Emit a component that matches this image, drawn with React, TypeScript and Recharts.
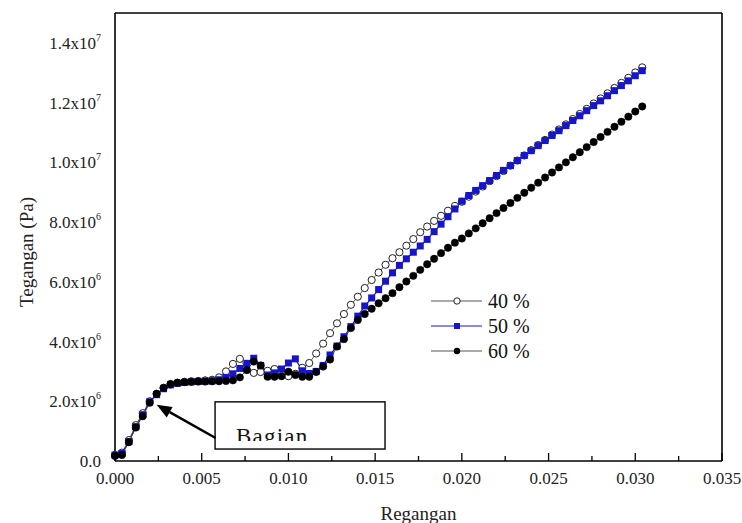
import React from 'react';
import { LineChart, Line, XAxis, YAxis, ReferenceLine, ReferenceArea, Legend } from 'recharts';

// strain (regangan), read every 0.0004 off the plot
const strain = [
  0, 0.0004, 0.0008, 0.0012, 0.0016, 0.002, 0.0024, 0.0028, 0.0032, 0.0036,
  0.004, 0.0044, 0.0048, 0.0052, 0.0056, 0.006, 0.0064, 0.0068, 0.0072, 0.0076,
  0.008, 0.0084, 0.0088, 0.0092, 0.0096, 0.01, 0.0104, 0.0108, 0.0112, 0.0116,
  0.012, 0.0124, 0.0128, 0.0132, 0.0136, 0.014, 0.0144, 0.0148, 0.0152, 0.0156,
  0.016, 0.0164, 0.0168, 0.0172, 0.0176, 0.018, 0.0184, 0.0188, 0.0192, 0.0196,
  0.02, 0.0204, 0.0208, 0.0212, 0.0216, 0.022, 0.0224, 0.0228, 0.0232, 0.0236,
  0.024, 0.0244, 0.0248, 0.0252, 0.0256, 0.026, 0.0264, 0.0268, 0.0272, 0.0276,
  0.028, 0.0284, 0.0288, 0.0292, 0.0296, 0.03, 0.0304,
];

// stress (tegangan) in units of 10^6 Pa
const stress40 = [
  0.2, 0.28, 0.7, 1.2, 1.6, 2.0, 2.25, 2.45, 2.56, 2.62,
  2.65, 2.67, 2.68, 2.7, 2.72, 2.8, 3.0, 3.25, 3.42, 3.05,
  2.95, 2.98, 3.02, 3.08, 2.95, 2.84, 2.92, 3.12, 3.28, 3.6,
  3.93, 4.28, 4.61, 4.92, 5.23, 5.5, 5.79, 6.06, 6.31, 6.57,
  6.79, 6.99, 7.21, 7.43, 7.66, 7.85, 8.04, 8.21, 8.38, 8.54,
  8.68, 8.85, 9.02, 9.19, 9.37, 9.54, 9.71, 9.89, 10.06, 10.23,
  10.41, 10.58, 10.75, 10.93, 11.1, 11.27, 11.45, 11.62, 11.79, 11.97,
  12.14, 12.31, 12.49, 12.66, 12.83, 13.01, 13.18,
];

const stress50 = [
  0.2, 0.25, 0.65, 1.15, 1.55, 1.98, 2.22, 2.42, 2.55, 2.6,
  2.63, 2.65, 2.66, 2.67, 2.68, 2.72, 2.8, 2.92, 3.1, 3.27,
  3.44, 3.2, 2.88, 2.95, 3.08, 3.28, 3.42, 3.02, 2.93, 3.0,
  3.2, 3.55, 3.85, 4.16, 4.5, 4.85, 5.19, 5.46, 5.74, 6.02,
  6.3, 6.55, 6.77, 6.99, 7.2, 7.42, 7.68, 7.93, 8.18, 8.44,
  8.7, 8.89, 9.06, 9.22, 9.39, 9.56, 9.73, 9.89, 10.06, 10.23,
  10.39, 10.56, 10.73, 10.9, 11.06, 11.23, 11.4, 11.56, 11.73, 11.9,
  12.06, 12.23, 12.4, 12.57, 12.73, 12.9, 13.07,
];

const stress60 = [
  0.17, 0.2, 0.63, 1.12, 1.5, 1.95, 2.25, 2.45, 2.58, 2.62,
  2.64, 2.65, 2.66, 2.66, 2.67, 2.67, 2.68, 2.7, 2.8, 3.05,
  3.33, 3.2, 2.82, 2.82, 2.84, 2.99, 2.88, 2.82, 2.82, 2.98,
  3.16, 3.4, 3.83, 4.08, 4.45, 4.72, 4.92, 5.1, 5.28, 5.45,
  5.62, 5.82, 6.01, 6.2, 6.4, 6.59, 6.77, 6.96, 7.14, 7.31,
  7.45, 7.62, 7.79, 7.96, 8.13, 8.3, 8.47, 8.64, 8.81, 8.98,
  9.15, 9.32, 9.49, 9.66, 9.83, 10.0, 10.17, 10.34, 10.51, 10.68,
  10.85, 11.02, 11.19, 11.36, 11.53, 11.7, 11.87,
];

const xTicks = [0, 0.0025, 0.005, 0.0075, 0.01, 0.0125, 0.015, 0.0175, 0.02, 0.0225, 0.025, 0.0275, 0.03, 0.0325, 0.035];
const xTickLabels = ['0.000', '', '0.005', '', '0.010', '', '0.015', '', '0.020', '', '0.025', '', '0.030', '', '0.035'];
const yTicks = [0, 2, 4, 6, 8, 10, 12, 14];
const yTickMantissa = ['0.0', '2.0', '4.0', '6.0', '8.0', '1.0', '1.2', '1.4'];
const yTickExponent = ['', '6', '6', '6', '6', '7', '7', '7'];
const seriesNames = ['40 %', '50 %', '60 %'];

const data = strain.map((s, i) => ({ strain: s, s40: stress40[i], s50: stress50[i], s60: stress60[i] }));

const FONT = '"Liberation Serif", "Times New Roman", serif';
const BLUE = '#1616c8';

const XTick = (props: any) => {
  const { x, y, payload } = props;
  const i = xTicks.indexOf(payload.value);
  const label = xTickLabels[i];
  const major = label !== '';
  return (
    <g>
      <line x1={x} y1={y} x2={x} y2={y - (major ? 8 : 5)} stroke="#000" strokeWidth={1.3} />
      {major && (
        <text x={x} y={y + 23} textAnchor="middle" fontSize={17} fontFamily={FONT} fill="#222">
          {label}
        </text>
      )}
    </g>
  );
};

const YTick = (props: any) => {
  const { x, y, payload } = props;
  const i = yTicks.indexOf(payload.value);
  const exp = yTickExponent[i];
  return (
    <text x={x - 14} y={y + 6} textAnchor="end" fontSize={17} fontFamily={FONT} fill="#222">
      <tspan>{yTickMantissa[i] + (exp ? 'x10' : '')}</tspan>
      {exp && (
        <tspan dy={-8} fontSize={10}>
          {exp}
        </tspan>
      )}
    </text>
  );
};

const SquareDot = (props: any) => {
  const { cx, cy, index } = props;
  if (cx == null || cy == null) return null;
  return <rect key={`sq-${index}`} x={cx - 3.5} y={cy - 3.5} width={7} height={7} fill={BLUE} />;
};

const BoxShape = (props: any) => {
  const { x, y, width, height } = props;
  return (
    <g>
      <defs>
        <clipPath id="boxclip">
          <rect x={x} y={y} width={width} height={height - 8} />
        </clipPath>
      </defs>
      <rect x={x} y={y} width={width} height={height} fill="#fff" stroke="#000" strokeWidth={1.4} />
      <text x={x + 21} y={y + 42} fontSize={23} fontFamily={FONT} fill="#111" letterSpacing={1.2} clipPath="url(#boxclip)">
        Bagian
      </text>
    </g>
  );
};

const ArrowShape = (props: any) => {
  const { x1, y1, x2, y2 } = props;
  const dx = x2 - x1;
  const dy = y2 - y1;
  const len = Math.sqrt(dx * dx + dy * dy) || 1;
  const ux = dx / len;
  const uy = dy / len;
  const hl = 15;
  const hw = 6;
  const bx = x2 - ux * hl;
  const by = y2 - uy * hl;
  return (
    <g>
      <line x1={x1} y1={y1} x2={bx} y2={by} stroke="#000" strokeWidth={2.5} />
      <polygon
        points={`${x2},${y2} ${bx - uy * hw},${by + ux * hw} ${bx + uy * hw},${by - ux * hw}`}
        fill="#000"
      />
    </g>
  );
};

const LegendBox = () => {
  const rows = [18, 43, 68];
  return (
    <svg width={130} height={82} style={{ display: 'block' }}>
      {rows.map((ry, i) => (
        <g key={seriesNames[i]}>
          <line x1={6} y1={ry} x2={57} y2={ry} stroke={i === 1 ? BLUE : '#555'} strokeWidth={1.2} />
          {i === 0 && <circle cx={32} cy={ry} r={3.2} fill="#fff" stroke="#222" strokeWidth={1} />}
          {i === 1 && <rect x={29} y={ry - 3} width={6} height={6} fill={BLUE} />}
          {i === 2 && <circle cx={32} cy={ry} r={3.2} fill="#000" />}
          <text x={63} y={ry + 7} fontSize={20} fontFamily={FONT} fill="#111">
            {seriesNames[i]}
          </text>
        </g>
      ))}
    </svg>
  );
};

export default function App() {
  return (
    <div style={{ position: 'absolute', left: 0, top: 0, width: 742, height: 523, background: '#fff' }}>
      <LineChart width={742} height={523} data={data} margin={{ top: 13, right: 20, bottom: 0, left: 0 }}>
        <XAxis
          dataKey="strain"
          type="number"
          domain={[0, 0.035]}
          ticks={xTicks}
          interval={0}
          height={62}
          tickSize={0}
          tickMargin={0}
          tickLine={false}
          tick={(p: any) => <XTick {...p} />}
          axisLine={{ stroke: '#000', strokeWidth: 1.6 }}
          label={{ value: 'Regangan', position: 'insideBottom', offset: 3, fontSize: 19, fontFamily: FONT, fill: '#222' }}
        />
        <YAxis
          type="number"
          domain={[0, 15]}
          ticks={yTicks}
          interval={0}
          width={115}
          tickSize={0}
          tickMargin={0}
          tickLine={false}
          tick={(p: any) => <YTick {...p} />}
          axisLine={{ stroke: '#000', strokeWidth: 1.6 }}
          label={{
            content: () => (
              <text
                x={26}
                y={252}
                transform="rotate(-90 26 252)"
                textAnchor="middle"
                dominantBaseline="central"
                fontSize={19}
                fontFamily={FONT}
                fill="#222"
              >
                Tegangan (Pa)
              </text>
            ),
          }}
        />
        <ReferenceLine y={15} stroke="#000" strokeWidth={1.6} />
        <ReferenceLine x={0.035} stroke="#000" strokeWidth={1.6} />
        <ReferenceArea x1={0.00577} x2={0.01557} y1={0.4} y2={1.98} ifOverflow="visible" shape={BoxShape} />
        <ReferenceLine
          segment={[{ x: 0.0058, y: 0.77 }, { x: 0.0024, y: 1.88 }]}
          ifOverflow="visible"
          shape={ArrowShape}
        />
        <Line
          type="linear"
          dataKey="s40"
          name={seriesNames[0]}
          stroke="#666"
          strokeWidth={1}
          dot={{ r: 3.6, fill: '#fff', stroke: '#222', strokeWidth: 1 }}
          isAnimationActive={false}
        />
        <Line
          type="linear"
          dataKey="s50"
          name={seriesNames[1]}
          stroke={BLUE}
          strokeWidth={1.2}
          dot={(p: any) => <SquareDot key={`sq-${p.index}`} {...p} />}
          isAnimationActive={false}
        />
        <Line
          type="linear"
          dataKey="s60"
          name={seriesNames[2]}
          stroke="#444"
          strokeWidth={1}
          dot={{ r: 3.7, fill: '#000', stroke: '#000', strokeWidth: 0.5 }}
          isAnimationActive={false}
        />
        <Legend
          layout="horizontal"
          verticalAlign="middle"
          align="center"
          content={() => <LegendBox />}
          wrapperStyle={{ position: 'absolute', left: 425, top: 283, width: 130, height: 82 }}
        />
      </LineChart>
    </div>
  );
}
